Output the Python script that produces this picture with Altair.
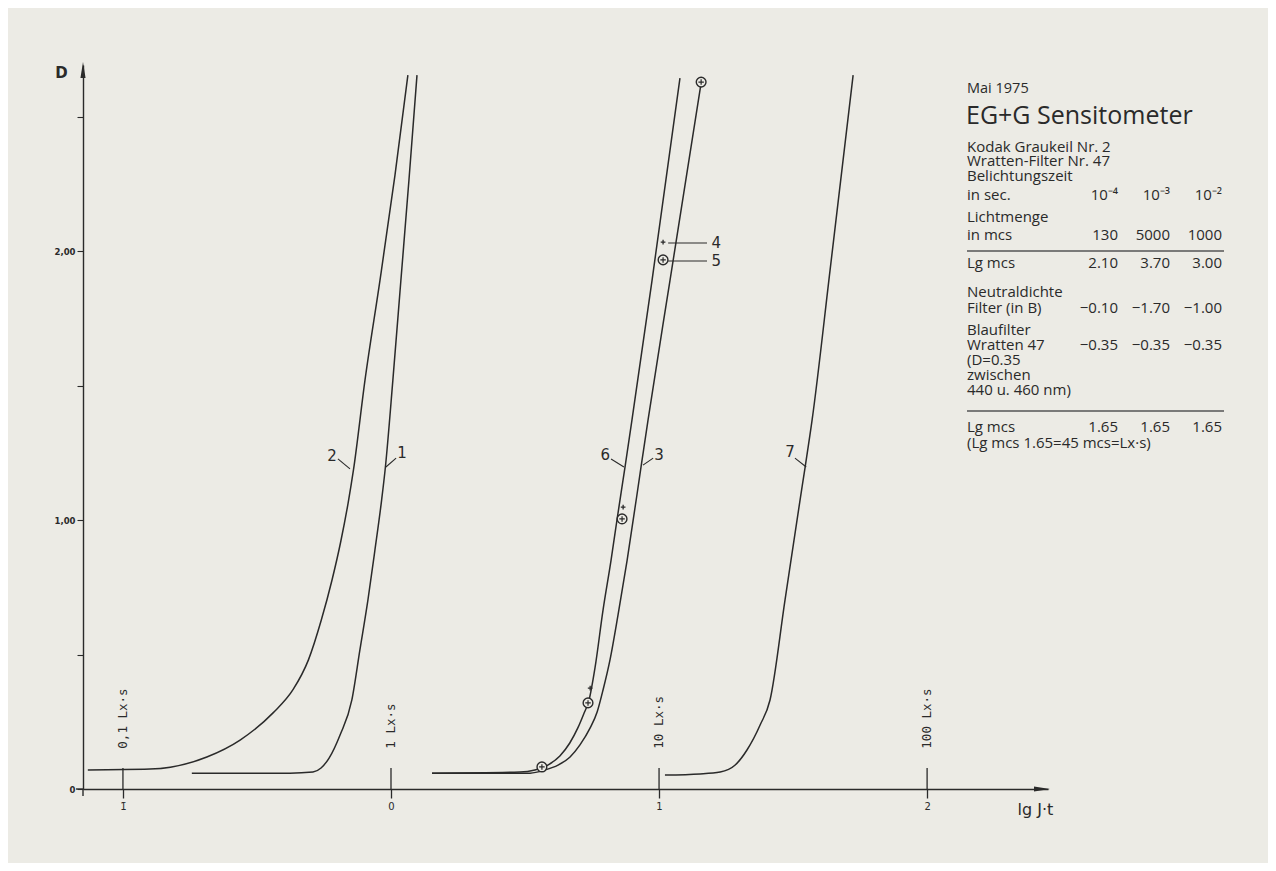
import altair as alt
import pandas as pd

BG = "#ECEBE5"
INK = "#2a2a2a"

# ---------------- data (x = lg J·t, y = density D) ----------------
curve1_lg = [-0.743, -0.377, -0.291, -0.261, -0.231, -0.190, -0.146, -0.116, -0.086, -0.060, -0.035, -0.022, 0.007, 0.037, 0.067, 0.097]
curve1_D = [0.059, 0.059, 0.063, 0.078, 0.115, 0.201, 0.331, 0.517, 0.703, 0.888, 1.074, 1.186, 1.520, 1.892, 2.264, 2.654]

curve2_lg = [-1.131, -0.899, -0.687, -0.563, -0.440, -0.365, -0.308, -0.260, -0.220, -0.187, -0.160, -0.140, -0.097, -0.041, 0.015, 0.063]
curve2_D = [0.071, 0.074, 0.119, 0.182, 0.283, 0.370, 0.480, 0.628, 0.777, 0.922, 1.063, 1.186, 1.520, 1.892, 2.283, 2.654]

curve6_lg = [0.153, 0.481, 0.537, 0.585, 0.630, 0.667, 0.697, 0.719, 0.739, 0.761, 0.791, 0.821, 0.843, 0.873, 0.899, 0.974, 1.078]
curve6_D = [0.059, 0.063, 0.071, 0.089, 0.123, 0.171, 0.227, 0.279, 0.331, 0.450, 0.665, 0.851, 1.000, 1.197, 1.372, 1.892, 2.643]

curve3_lg = [0.153, 0.519, 0.575, 0.623, 0.668, 0.705, 0.743, 0.769, 0.791, 0.817, 0.847, 0.881, 0.935, 0.959, 1.041, 1.157]
curve3_D = [0.059, 0.059, 0.071, 0.089, 0.119, 0.164, 0.227, 0.286, 0.368, 0.480, 0.647, 0.851, 1.212, 1.372, 1.892, 2.625]

curve7_lg = [1.022, 1.153, 1.228, 1.284, 1.328, 1.377, 1.414, 1.470, 1.526, 1.545, 1.571, 1.638, 1.724]
curve7_D = [0.052, 0.056, 0.063, 0.089, 0.145, 0.238, 0.331, 0.703, 1.074, 1.197, 1.372, 1.929, 2.654]

circle_lg = [0.563, 0.735, 0.862, 1.015, 1.157]
circle_D = [0.082, 0.320, 1.004, 1.967, 2.628]
plus_lg = [0.743, 0.866, 1.015]
plus_D = [0.375, 1.048, 2.033]

label_text = ["1", "2", "3", "6", "7", "4", "5"]
label_lg = [0.041, -0.220, 1.000, 0.799, 1.489, 1.213, 1.213]
label_D = [1.249, 1.238, 1.242, 1.242, 1.253, 2.030, 1.963]
leader_lg1 = [0.019, -0.198, 0.978, 0.821, 1.507, 1.034, 1.034]
leader_D1 = [1.230, 1.227, 1.230, 1.227, 1.230, 2.030, 1.963]
leader_lg2 = [-0.019, -0.153, 0.940, 0.869, 1.549, 1.179, 1.179]
leader_D2 = [1.197, 1.190, 1.204, 1.197, 1.197, 2.030, 1.963]

marker_lg = [-1, 0, 1, 2]
marker_text = ["0,1 Lx·s", "1 Lx·s", "10 Lx·s", "100 Lx·s"]
x_tick_labels = ["1̄", "0", "1", "2"]
y_ticks = [0, 0.5, 1.0, 1.5, 2.0, 2.5]
y_tick_labels = ["0", "", "1,00", "", "2,00", ""]

table_date = "Mai 1975"
table_title = "EG+G Sensitometer"
table_left = ["Kodak Graukeil Nr. 2", "Wratten-Filter Nr. 47", "Belichtungszeit", "in sec.",
              "Lichtmenge", "in mcs", "Lg mcs", "Neutraldichte", "Filter (in B)", "Blaufilter",
              "Wratten 47", "(D=0.35", "zwischen", "440 u. 460 nm)", "Lg mcs",
              "(Lg mcs 1.65=45 mcs=Lx·s)"]
row_sec = ["10⁻⁴", "10⁻³", "10⁻²"]
row_mcs = ["130", "5000", "1000"]
row_lg = ["2.10", "3.70", "3.00"]
row_neutral = ["−0.10", "−1.70", "−1.00"]
row_blau = ["−0.35", "−0.35", "−0.35"]
row_final = ["1.65", "1.65", "1.65"]

# ---------------- layout ----------------
W, H = 965, 724
PAD_L, PAD_T = 75, 57
XMIN, XMAX = -1.149, 2.451
YMAX = 2.6915
xs = alt.Scale(domain=[XMIN, XMAX], nice=False, zero=False)
ys = alt.Scale(domain=[0, YMAX], nice=False, zero=False)


def page_to_lg(px):
    return XMIN + (px - 8 - PAD_L) * (XMAX - XMIN) / W


def page_to_D(py):
    return YMAX - (py - 8 - PAD_T) * YMAX / H


tick_label_expr = " : ".join(
    [f"datum.value == {v} ? '{t}'" for v, t in zip(marker_lg, x_tick_labels)]) + " : ''"
y_label_expr = " : ".join(
    [f"datum.value == {v} ? '{t}'" for v, t in zip(y_ticks, y_tick_labels)]) + " : ''"

XAX = alt.Axis(
    values=marker_lg, labelExpr=tick_label_expr, grid=False,
    tickSize=9, tickWidth=1.3, tickColor=INK, domainColor=INK, domainWidth=1.4,
    labelAngle=0, labelFont="DejaVu Sans", labelFontSize=10, labelColor=INK, labelPadding=3,
    title="lg J·t", titleFont="DejaVu Sans", titleFontSize=16, titleFontWeight="normal",
    titleColor=INK, titleAngle=0, titleAlign="left", titleBaseline="middle",
    titleX=934, titleY=20)
YAX = alt.Axis(
    values=y_ticks, labelExpr=y_label_expr, grid=False,
    tickSize=6, tickWidth=1.1, tickColor=INK, domainColor=INK, domainWidth=1.4,
    labelFont="DejaVu Sans", labelFontSize=8.5, labelFontWeight="bold", labelColor=INK,
    labelPadding=2,
    title="D", titleFont="DejaVu Sans", titleFontSize=15, titleFontWeight="bold",
    titleColor=INK, titleAngle=0, titleAlign="center", titleBaseline="middle",
    titleX=-22, titleY=7)


def X(f):
    return alt.X(f, type="quantitative", scale=xs, axis=XAX)


def Y(f):
    return alt.Y(f, type="quantitative", scale=ys, axis=YAX)


rows = []
for name, xl, yl in [("1", curve1_lg, curve1_D), ("2", curve2_lg, curve2_D),
                     ("6", curve6_lg, curve6_D), ("3", curve3_lg, curve3_D),
                     ("7", curve7_lg, curve7_D)]:
    for i, (a, b) in enumerate(zip(xl, yl)):
        rows.append({"curve": name, "i": i, "lg": a, "D": b})
df_curves = pd.DataFrame(rows)

curves = alt.Chart(df_curves).mark_line(
    interpolate="monotone", strokeWidth=1.5, color=INK
).encode(x=X("lg"), y=Y("D"), detail="curve:N", order="i:Q")

df_circ = pd.DataFrame({"lg": circle_lg, "D": circle_D})
circles = alt.Chart(df_circ).mark_circle(
    size=95, color=BG, opacity=1, stroke=INK, strokeWidth=1.4
).encode(x=X("lg"), y=Y("D"))
circle_plus = alt.Chart(df_circ).mark_point(
    shape="M-1,0L1,0M0,-1L0,1", size=30, filled=False, color=INK, strokeWidth=1.2, opacity=1
).encode(x=X("lg"), y=Y("D"))

df_plus = pd.DataFrame({"lg": plus_lg, "D": plus_D})
pluses = alt.Chart(df_plus).mark_point(
    shape="M-1,0L1,0M0,-1L0,1", size=22, filled=False, color=INK, strokeWidth=1.3, opacity=1
).encode(x=X("lg"), y=Y("D"))

df_lab = pd.DataFrame({"t": label_text, "lg": label_lg, "D": label_D,
                       "lg1": leader_lg1, "D1": leader_D1, "lg2": leader_lg2, "D2": leader_D2})
leaders = alt.Chart(df_lab).mark_rule(color=INK, strokeWidth=1.1).encode(
    x=X("lg1"), y=Y("D1"), x2="lg2:Q", y2="D2:Q")
labels = alt.Chart(df_lab).mark_text(
    font="DejaVu Sans", fontSize=15, color=INK, align="center", baseline="middle"
).encode(x=X("lg"), y=Y("D"), text="t:N")

df_mark = pd.DataFrame({"lg": marker_lg, "t": marker_text, "D": [0.0] * 4, "D2": [0.078] * 4,
                        "Dt": [0.150] * 4})
mark_rules = alt.Chart(df_mark).mark_rule(color=INK, strokeWidth=1.3).encode(
    x=X("lg"), y=Y("D"), y2="D2:Q")
mark_text = alt.Chart(df_mark).mark_text(
    font="DejaVu Sans Mono", fontSize=12.5, color=INK, angle=270, align="left", baseline="middle"
).encode(x=X("lg"), y=Y("Dt"), text="t:N")

# axis extensions and arrow heads
df_ext = pd.DataFrame({"lg": [XMIN, XMIN], "lg2": [XMIN, page_to_lg(76)],
                       "D": [0.0, 0.0], "D2": [page_to_D(796), 0.0]})
ext = alt.Chart(df_ext).mark_rule(color=INK, strokeWidth=1.4).encode(
    x=X("lg"), y=Y("D"), x2="lg2:Q", y2="D2:Q")
arrow_up = alt.Chart(pd.DataFrame({"lg": [XMIN], "D": [page_to_D(70)]})).mark_point(
    shape="M0,-1L0.32,1L-0.32,1Z", size=256, filled=True, color=INK, opacity=1
).encode(x=X("lg"), y=Y("D"))
arrow_right = alt.Chart(pd.DataFrame({"lg": [page_to_lg(1042)], "D": [0.0]})).mark_point(
    shape="M1,0L-1,-0.32L-1,0.32Z", size=256, filled=True, color=INK, opacity=1
).encode(x=X("lg"), y=Y("D"))

# ---------------- table block ----------------
LEFT = 967
COLS = [1118, 1170, 1222]
left_y = [147, 161, 176, 195, 217, 235, 263, 292, 308, 330, 345, 360, 375, 390, 427, 443]
df_left = pd.DataFrame({"t": table_left,
                        "lg": [page_to_lg(LEFT)] * len(table_left),
                        "D": [page_to_D(v) for v in left_y]})
num_rows = [(row_sec, 195), (row_mcs, 235), (row_lg, 263), (row_neutral, 308),
            (row_blau, 345), (row_final, 427)]
nrows = []
for vals, yy in num_rows:
    for c, v in zip(COLS, vals):
        nrows.append({"t": v, "lg": page_to_lg(c), "D": page_to_D(yy)})
df_num = pd.DataFrame(nrows)

FONT_T = "Open Sans"
t_left = alt.Chart(df_left).mark_text(
    font=FONT_T, fontSize=15, color=INK, align="left", baseline="middle"
).encode(x=X("lg"), y=Y("D"), text="t:N")
t_num = alt.Chart(df_num).mark_text(
    font=FONT_T, fontSize=15, color=INK, align="right", baseline="middle"
).encode(x=X("lg"), y=Y("D"), text="t:N")
df_head = pd.DataFrame({"t": [table_date], "lg": [page_to_lg(LEFT)], "D": [page_to_D(89)]})
t_date = alt.Chart(df_head).mark_text(
    font=FONT_T, fontSize=14.5, color=INK, align="left", baseline="middle"
).encode(x=X("lg"), y=Y("D"), text="t:N")
df_title = pd.DataFrame({"t": [table_title], "lg": [page_to_lg(LEFT - 1)], "D": [page_to_D(116)]})
t_title = alt.Chart(df_title).mark_text(
    font=FONT_T, fontSize=25, color=INK, align="left", baseline="middle"
).encode(x=X("lg"), y=Y("D"), text="t:N")
df_rules = pd.DataFrame({"lg": [page_to_lg(LEFT)] * 2, "lg2": [page_to_lg(COLS[2] + 2)] * 2,
                         "D": [page_to_D(251), page_to_D(411)]})
t_rules = alt.Chart(df_rules).mark_rule(color="#555", strokeWidth=1.3).encode(
    x=X("lg"), x2="lg2:Q", y=Y("D"))

chart = alt.layer(
    curves, mark_rules, mark_text, ext, arrow_up, arrow_right,
    leaders, labels, circles, circle_plus, pluses,
    t_rules, t_left, t_num, t_date, t_title,
).properties(
    width=W, height=H,
    padding={"left": PAD_L, "top": PAD_T, "right": 1260 - PAD_L - W, "bottom": 855 - PAD_T - H},
    autosize=alt.AutoSizeParams(type="none"),
).configure(background=BG).configure_view(stroke=None)

chart.save("out.html", embed_options={"renderer": "svg", "actions": False})
